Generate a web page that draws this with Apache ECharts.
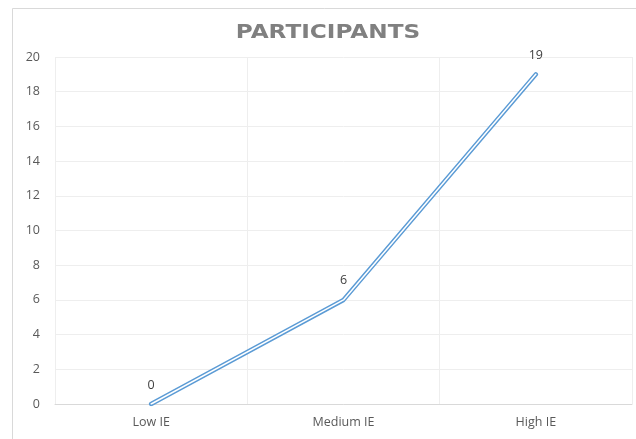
<!DOCTYPE html>
<html>
<head>
<meta charset="utf-8">
<script src="https://cdn.jsdelivr.net/npm/echarts@6/dist/echarts.min.js"></script>
<style>
  html, body { margin: 0; padding: 0; background: #fff; }
  #chart { width: 636px; height: 439px; }
</style>
</head>
<body>
<div id="chart"></div>
<script>
// Participants by IE level
const categories = ['Low IE', 'Medium IE', 'High IE'];
const participants = [0, 6, 19];
const yTicks = { min: 0, max: 20, interval: 2 };

const labelFont = '"Open Sans", "Noto Sans", sans-serif';
const chart = echarts.init(document.getElementById('chart'), null, { renderer: 'canvas' });

chart.setOption({
  animation: false,
  backgroundColor: '#ffffff',
  graphic: [
    {
      type: 'rect',
      shape: { x: 12.5, y: 8.5, width: 700, height: 600 },
      style: { fill: 'none', stroke: '#d9d9d9', lineWidth: 1 },
      silent: true
    },
    {
      // widened title text
      type: 'text',
      x: 328,
      y: 33,
      scaleX: 1.22,
      style: {
        text: 'PARTICIPANTS',
        align: 'center',
        verticalAlign: 'middle',
        fontFamily: '"DejaVu Sans", sans-serif',
        fontWeight: 'bold',
        fontSize: 19,
        fill: '#808080'
      },
      silent: true
    }
  ],
  grid: { left: 55, right: 4, top: 57, bottom: 35 },
  xAxis: {
    type: 'category',
    data: categories,
    boundaryGap: true,
    axisLine: { show: true, lineStyle: { color: '#d9d9d9', width: 1 } },
    axisTick: { show: false },
    splitLine: { show: true, lineStyle: { color: '#eeeeee', width: 1 } },
    axisLabel: { margin: 12, color: '#595959', fontSize: 12.5, fontFamily: labelFont }
  },
  yAxis: {
    type: 'value',
    min: yTicks.min,
    max: yTicks.max,
    interval: yTicks.interval,
    axisLine: { show: false },
    axisTick: { show: false },
    splitLine: { show: true, lineStyle: { color: '#eeeeee', width: 1 } },
    axisLabel: { margin: 15, color: '#595959', fontSize: 12.5, fontFamily: labelFont }
  },
  series: [
    {
      name: 'Participants',
      type: 'line',
      data: participants,
      symbol: 'circle',
      symbolSize: 1,
      showSymbol: true,
      itemStyle: { color: 'rgba(0,0,0,0)' },
      lineStyle: { color: '#5b9bd5', width: 4.5, cap: 'round', join: 'round' },
      label: {
        show: true,
        position: 'top',
        distance: 12,
        color: '#404040',
        fontSize: 12.5,
        fontFamily: labelFont
      },
      z: 2
    },
    {
      // inner white stroke gives the double-line look
      name: 'Participants inner',
      type: 'line',
      data: participants,
      symbol: 'none',
      lineStyle: { color: '#ffffff', width: 1.5, cap: 'round', join: 'round' },
      label: { show: false },
      silent: true,
      z: 3
    }
  ]
});
</script>
</body>
</html>
